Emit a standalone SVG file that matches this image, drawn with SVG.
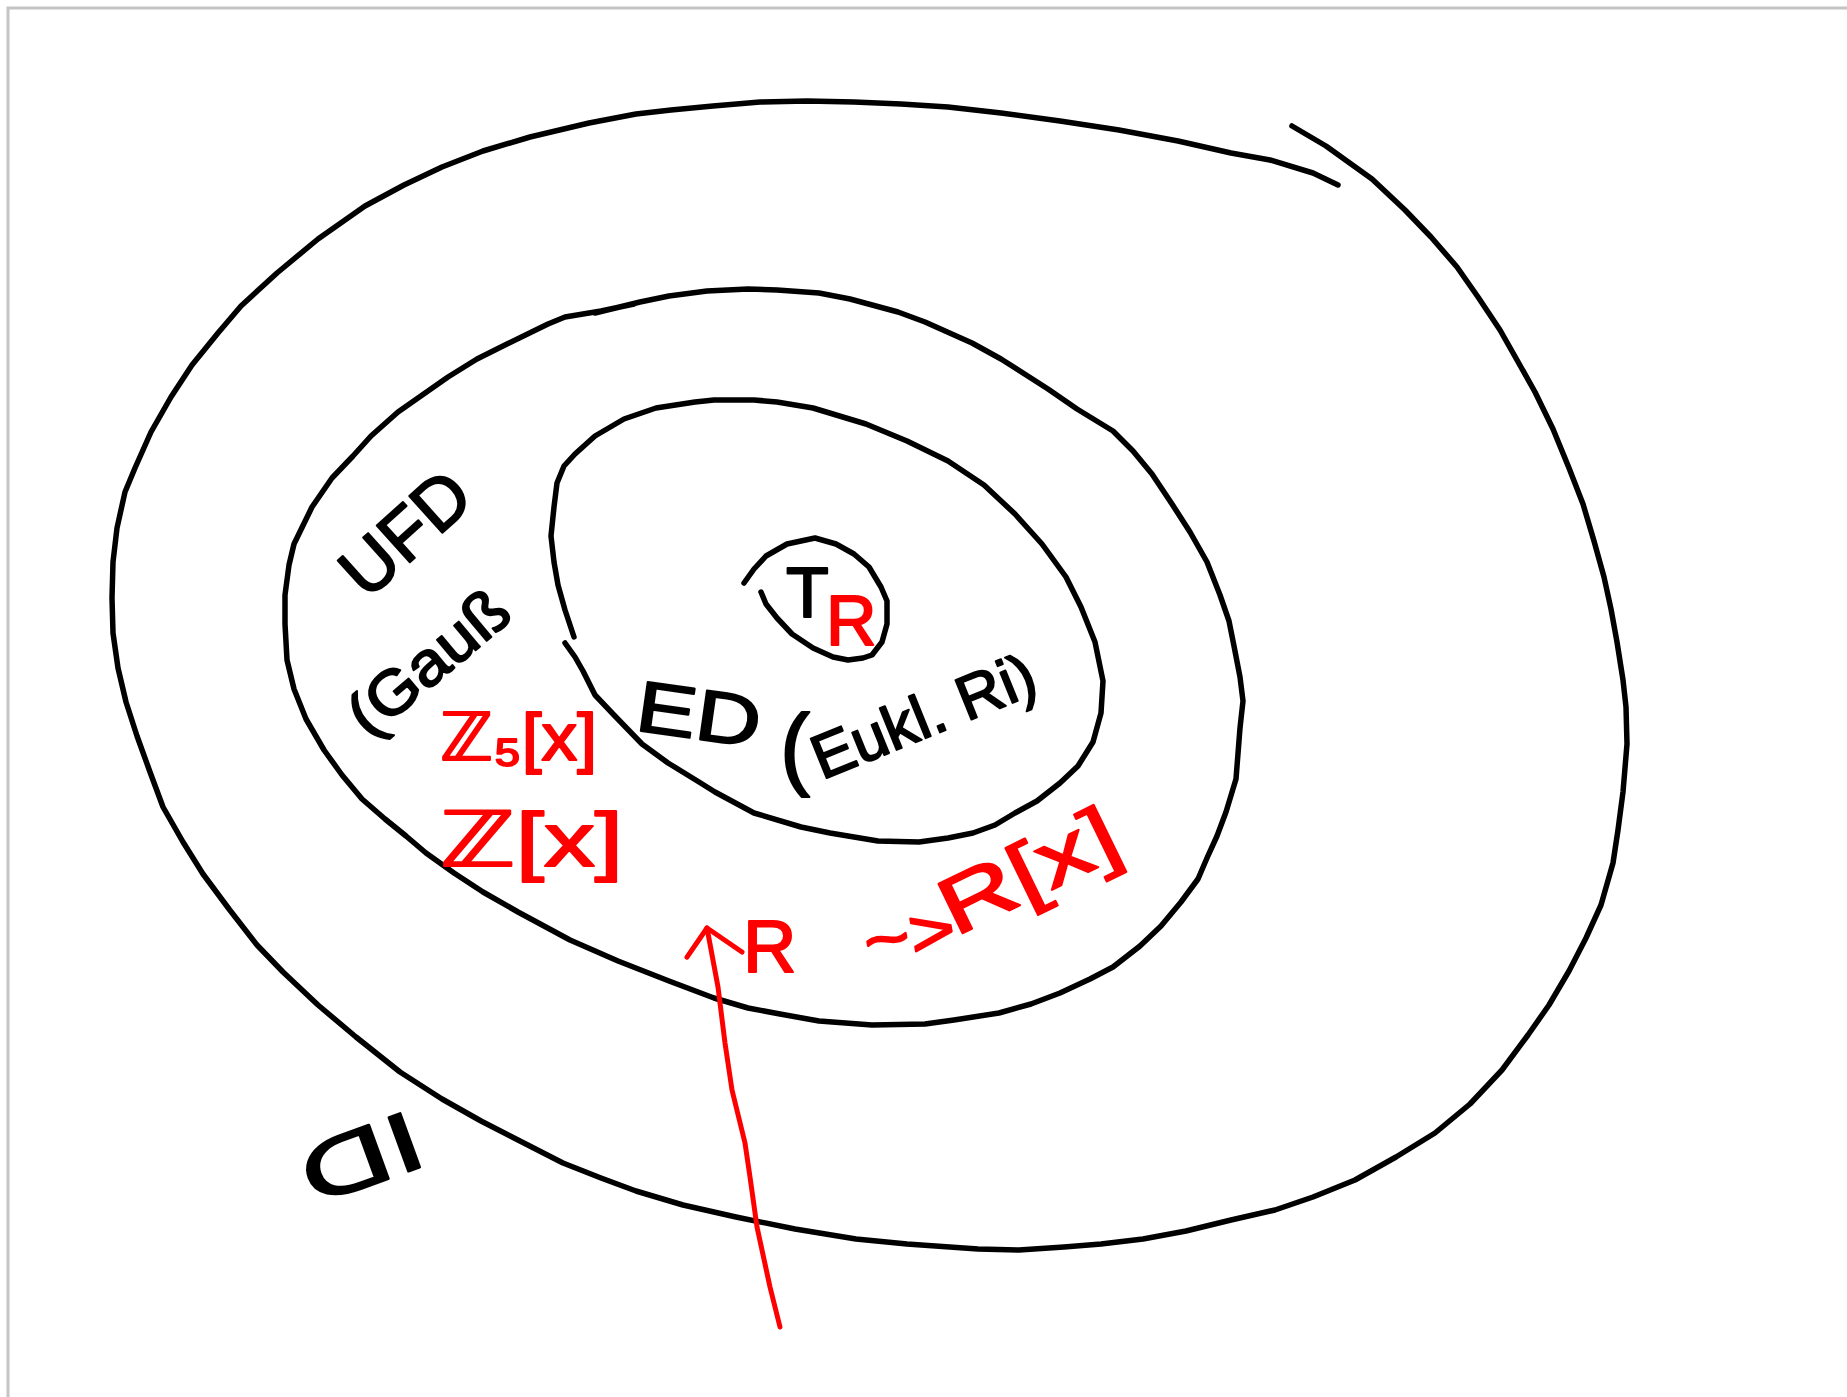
<svg xmlns="http://www.w3.org/2000/svg" width="1847" height="1397" viewBox="0 0 1847 1397">
<style>
.frame{stroke:#c4c4c4;stroke-width:3;fill:none}
.ink{fill:none;stroke:#000;stroke-width:5.5;stroke-linecap:round;stroke-linejoin:round}
.red{fill:none;stroke:#f00;stroke-width:5;stroke-linecap:round;stroke-linejoin:round}
.t{font-family:"Liberation Sans","DejaVu Sans",sans-serif;fill:#000;stroke:#000;stroke-width:2;stroke-linejoin:round}
.tr{font-family:"Liberation Sans","DejaVu Sans",sans-serif;fill:#f00;stroke:#f00;stroke-width:2;stroke-linejoin:round}
</style>
<defs>
<marker id="openHead" markerUnits="userSpaceOnUse" markerWidth="80" markerHeight="80" refX="0" refY="0" viewBox="-40 -40 80 80" orient="auto" overflow="visible">
<path d="M-25,-25 L0,0 L-30,30" fill="none" stroke="#f00" stroke-width="5" stroke-linecap="round" stroke-linejoin="round"/>
</marker>
</defs>
<rect width="1847" height="1397" fill="#fff"/>
<path class="frame" d="M8,1397 V8 H1847"/>

<g id="ring-ID">
<path class="ink" d="M1338,185 L1313,173 L1270,160 L1231,153 L1178,141 L1119,130 L1060,121 L1001,113 L948,107 L901,104 L854,102 L807,101 L760,102 L713,106 L671,110 L636,114 L589,123 L530,137 L483,151 L442,167 L404,185 L365,206 L318,239 L277,273 L241,306 L218,333 L192,365 L171,397 L151,432 L135,468 L125,492 L117,528 L113,562 L112,598 L113,633 L118,668 L126,702 L137,736 L150,772 L163,807 L183,842 L203,874 L229,909 L257,945 L283,972 L318,1005 L356,1037 L400,1072 L442,1099 L481,1121 L518,1140 L563,1163 L601,1178 L636,1191 L683,1205 L736,1217 L795,1229 L856,1239 L907,1244 L978,1249 L1019,1250 L1064,1247 L1101,1244 L1143,1239 L1186,1231 L1231,1220 L1275,1210 L1313,1197 L1355,1180 L1396,1157 L1435,1133 L1470,1104 L1502,1070 L1528,1035 L1549,1005 L1569,971 L1586,938 L1601,905 L1613,863 L1618,830 L1623,792 L1627,744 L1626,707 L1623,680 L1617,642 L1611,609 L1604,577 L1594,541 L1583,504 L1569,468 L1553,429 L1535,392 L1517,360 L1500,330 L1478,297 L1457,267 L1431,237 L1405,210 L1372,179 L1326,146 L1292,126"/>
<text class="t" transform="translate(362,1158) rotate(160)" text-anchor="middle" dominant-baseline="central" font-size="84" textLength="125" lengthAdjust="spacingAndGlyphs">ID</text>
</g>

<g id="ring-UFD">
<path class="ink" d="M634,304 L601,311 L565,317 L548,324 L507,344 L477,359 L448,377 L398,412 L371,436 L353,456 L332,478 L312,507 L294,544 L289,565 L285,595 L285,624 L287,660 L294,689 L306,719 L324,750 L342,775 L362,799 L385,819 L406,836 L426,853 L454,873 L483,892 L518,912 L570,940 L618,961 L669,981 L714,998 L748,1008 L780,1014 L819,1021 L872,1025 L925,1024 L954,1020 L999,1013 L1031,1004 L1060,993 L1090,979 L1113,967 L1140,946 L1161,926 L1181,902 L1198,879 L1207,858 L1217,836 L1226,812 L1236,779 L1240,728 L1243,701 L1240,677 L1234,646 L1229,621 L1220,595 L1207,562 L1190,532 L1172,504 L1152,474 L1133,451 L1113,431 L1077,409 L1048,389 L1001,359 L972,343 L925,322 L898,312 L850,299 L819,293 L777,290 L748,289 L707,291 L669,296 L640,302 L595,313"/>
<text class="t" transform="translate(405,533) rotate(-42)" text-anchor="middle" dominant-baseline="central" font-size="72">UFD</text>
<text class="t" transform="translate(428,662) rotate(-40)" text-anchor="middle" dominant-baseline="central" font-size="62" textLength="190" lengthAdjust="spacingAndGlyphs">(Gauß</text>
<text class="tr" x="440" y="760" font-size="66" textLength="157" lengthAdjust="spacingAndGlyphs">ℤ₅[x]</text>
<text class="tr" x="440" y="866" font-size="76" textLength="183" lengthAdjust="spacingAndGlyphs">ℤ[x]</text>
</g>

<g id="ring-ED">
<path class="ink" d="M574,637 L565,610 L558,585 L554,562 L551,536 L554,507 L557,483 L564,466 L575,454 L595,436 L624,419 L656,408 L695,402 L714,400 L754,400 L777,402 L813,408 L866,424 L907,441 L948,461 L984,485 L1015,514 L1042,544 L1066,577 L1081,607 L1095,642 L1103,681 L1101,713 L1093,742 L1078,766 L1060,783 L1037,801 L1015,813 L995,825 L973,833 L948,838 L919,842 L878,841 L830,833 L801,827 L754,813 L715,792 L699,782 L668,763 L642,744 L613,714 L595,695 L583,671 L575,657 L565,643"/>
<text class="t" transform="translate(699,714) rotate(8)" text-anchor="middle" dominant-baseline="central" font-size="72" textLength="125" lengthAdjust="spacingAndGlyphs">ED</text>
<text class="t" x="780" y="778" font-size="90">(</text>
<text class="t" transform="translate(822,780) rotate(-22)" font-size="62" textLength="236" lengthAdjust="spacingAndGlyphs">Eukl. Ri)</text>
</g>

<g id="circle-T">
<path class="ink" d="M744,583 L754,569 L766,556 L787,544 L815,538 L836,544 L854,554 L869,567 L881,587 L887,601 L887,624 L882,642 L872,655 L863,658 L848,660 L833,657 L813,648 L792,634 L777,618 L766,604 L761,592"/>
<text class="t" x="786" y="617" font-size="70">T</text>
<text class="tr" x="826" y="645" font-size="70">R</text>
</g>

<g id="connectors">
<path class="red" marker-end="url(#openHead)" d="M780,1327 L770,1287 L757,1227 L750,1177 L745,1143 L732,1090 L725,1043 L718,987 L707,928"/>
<text class="tr" x="743" y="972" font-size="74">R</text>
<text class="tr" transform="translate(868,965) rotate(-10)" font-size="66" textLength="92" lengthAdjust="spacingAndGlyphs">~&gt;</text>
<text class="tr" transform="translate(955,937) rotate(-26)" font-size="80" textLength="190" lengthAdjust="spacingAndGlyphs">R[x]</text>
</g>
</svg>
